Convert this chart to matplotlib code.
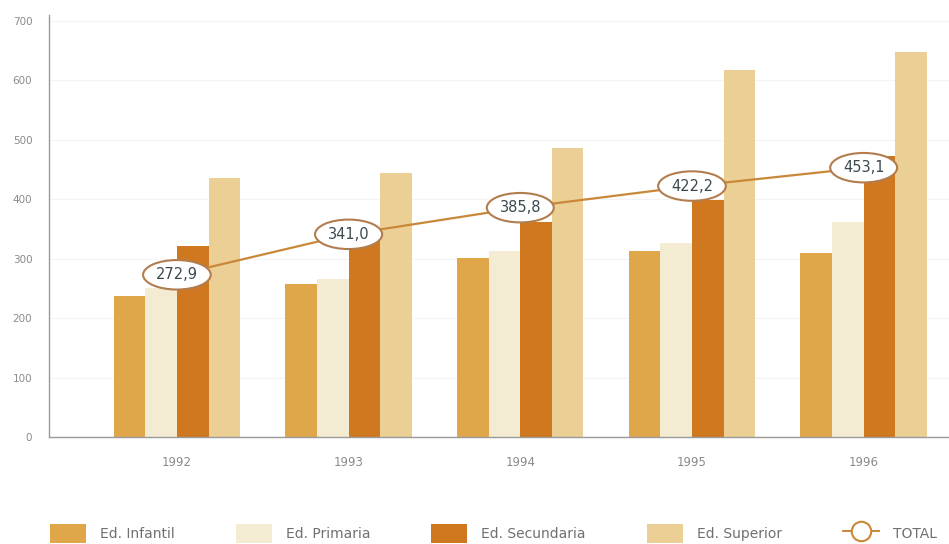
import matplotlib
matplotlib.use('Agg')
import matplotlib.pyplot as plt
from matplotlib.lines import Line2D
from matplotlib.patches import Patch
import numpy as np

years = ['1992', '1993', '1994', '1995', '1996']
infantil = [237, 257, 301, 313, 309]
primaria = [250, 266, 313, 326, 361]
secundaria = [321, 330, 362, 398, 472]
superior = [435, 445, 487, 617, 647]
total = [272.9, 341.0, 385.8, 422.2, 453.1]
total_labels = ['272,9', '341,0', '385,8', '422,2', '453,1']

series = [infantil, primaria, secundaria, superior]
names = ['Ed. Infantil', 'Ed. Primaria', 'Ed. Secundaria', 'Ed. Superior']
colors = ['#e0a64a', '#f3ebd2', '#cf781f', '#ebcf95']

fig = plt.figure(figsize=(9.49, 5.44), dpi=100)
ax = fig.add_axes([49 / 949, 1 - 437 / 544, 1 - 49 / 949, (437 - 15) / 544])

x = np.arange(len(years))
w = 0.184
for i, (vals, c) in enumerate(zip(series, colors)):
    ax.bar(x + (i - 1.5) * w, vals, width=w, color=c, zorder=2)

ax.plot(x, total, color='#c98838', lw=1.6, zorder=3)
for xi, v, lab in zip(x, total, total_labels):
    ax.annotate(lab, (xi, v), ha='center', va='center', fontsize=10.5,
                color='#3a4a50', zorder=4, fontweight='medium',
                bbox=dict(boxstyle='ellipse,pad=0.2', fc='white',
                          ec='#b27d4e', lw=1.5))

ax.set_xlim(-0.745, 4.497)
ax.set_ylim(0, 710)
ax.set_yticks(range(0, 701, 100))
ax.set_xticks(x)
ax.set_xticklabels(years)
ax.tick_params(axis='both', length=0, colors='#8a8a8a', labelsize=7.5)
ax.tick_params(axis='x', pad=14, labelsize=8.5)
ax.tick_params(axis='y', pad=12)
for s in ['top', 'right']:
    ax.spines[s].set_visible(False)
for s in ['left', 'bottom']:
    ax.spines[s].set_color('#9a9a9a')
    ax.spines[s].set_linewidth(1.0)
ax.yaxis.grid(True, color='#f4f4f4', lw=0.8, zorder=0)

handles = [Patch(facecolor=c, label=n) for c, n in zip(colors, names)]
handles.append(Line2D([0], [0], color='#c98838', lw=1.4, marker='o',
                      markersize=14, mfc='white', mec='#c98838', mew=1.5,
                      label='TOTAL'))
leg = fig.legend(handles=handles, loc='lower center', ncol=5,
                 bbox_to_anchor=(0.52, -0.022), frameon=False, fontsize=10,
                 handlelength=2.6, handleheight=1.8, columnspacing=4.4,
                 handletextpad=1.0)
for t in leg.get_texts():
    t.set_color('#707070')

fig.savefig('out.png', dpi=100)
